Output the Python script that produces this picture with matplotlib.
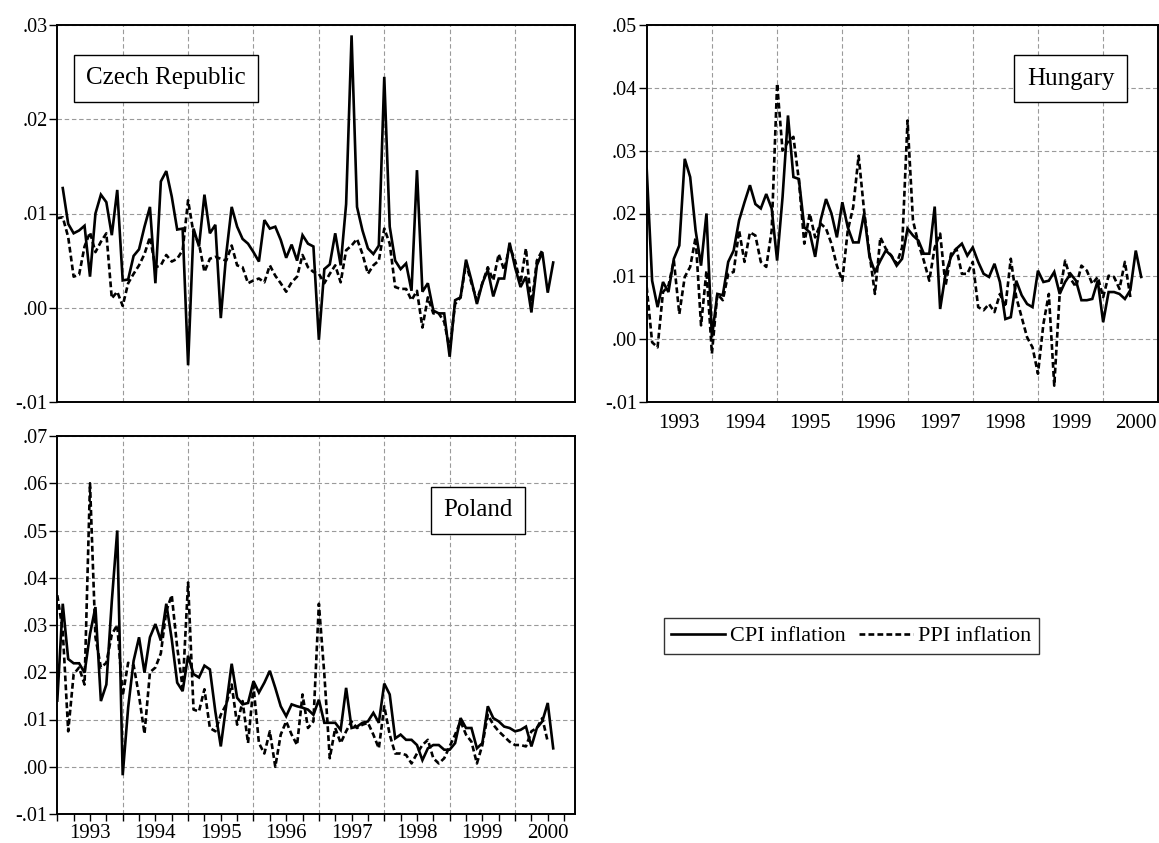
import numpy as np
import matplotlib
matplotlib.use("Agg")
import matplotlib.pyplot as plt
from matplotlib.ticker import FuncFormatter, MultipleLocator

plt.rcParams['font.family'] = ['Liberation Serif', 'DejaVu Serif']

nan = np.nan
years = ['1993', '1994', '1995', '1996', '1997', '1998', '1999', '2000']

# monthly inflation, first value = 1993:01
cz_cpi = [nan, .0127, .0089, .0079, .0082, .0087, .0033, .0100, .0120, .0112, .0077, .0125,
          .0029, .0030, .0055, .0062, .0086, .0107, .0026, .0134, .0145, .0118, .0083, .0084,
          -.0061, .0084, .0065, .0120, .0079, .0088, -.0011, .0057, .0107, .0086, .0073, .0068,
          .0059, .0049, .0093, .0084, .0086, .0072, .0053, .0067, .0050, .0077, .0068, .0065,
          -.0034, .0041, .0046, .0079, .0045, .0110, .0289, .0107, .0082, .0063, .0057, .0066,
          .0245, .0086, .0050, .0041, .0047, .0018, .0146, .0017, .0026, -.0003, -.0006, -.0006,
          -.0052, .0008, .0011, .0051, .0029, .0004, .0026, .0040, .0012, .0031, .0031, .0069,
          .0043, .0022, .0033, -.0005, .0045, .0059, .0016, .0048]
cz_ppi = [.0095, .0096, .0075, .0033, .0035, .0065, .0080, .0059, .0070, .0079, .0010, .0017,
          .0002, .0026, .0036, .0045, .0057, .0075, .0043, .0045, .0056, .0049, .0052, .0061,
          .0114, .0079, .0068, .0038, .0052, .0054, .0052, .0050, .0066, .0045, .0043, .0026,
          .0029, .0031, .0027, .0045, .0034, .0026, .0017, .0027, .0033, .0056, .0043, .0038,
          .0036, .0026, .0036, .0045, .0027, .0061, .0066, .0073, .0057, .0036, .0045, .0050,
          .0084, .0068, .0022, .0020, .0020, .0008, .0018, -.0021, .0011, -.0006, -.0006, -.0015,
          -.0044, .0004, .0011, .0047, .0026, .0008, .0026, .0043, .0029, .0057, .0040, .0065,
          .0050, .0026, .0063, .0001, .0050, .0061]

hu_cpi = [.0271, .0093, .0051, .0091, .0075, .0128, .0149, .0287, .0258, .0173, .0117, .0200,
          .0003, .0072, .0070, .0123, .0141, .0189, .0218, .0245, .0215, .0208, .0231, .0208,
          .0125, .0226, .0356, .0258, .0255, .0178, .0170, .0131, .0189, .0223, .0200, .0162,
          .0218, .0178, .0154, .0154, .0200, .0131, .0107, .0125, .0141, .0133, .0117, .0128,
          .0176, .0165, .0157, .0136, .0136, .0211, .0048, .0104, .0131, .0144, .0152, .0133,
          .0146, .0123, .0104, .0099, .0120, .0091, .0032, .0035, .0093, .0070, .0056, .0051,
          .0109, .0091, .0093, .0107, .0072, .0091, .0104, .0093, .0062, .0062, .0064, .0093,
          .0027, .0075, .0075, .0072, .0064, .0078, .0141, .0099]
hu_ppi = [.0083, -.0005, -.0013, .0075, .0085, .0125, .0040, .0099, .0115, .0162, .0022, .0109,
          -.0023, .0072, .0062, .0104, .0107, .0173, .0123, .0170, .0165, .0123, .0115, .0173,
          .0407, .0300, .0314, .0322, .0253, .0152, .0200, .0162, .0184, .0176, .0152, .0117,
          .0093, .0173, .0210, .0292, .0205, .0136, .0072, .0162, .0144, .0133, .0120, .0146,
          .0348, .0189, .0152, .0125, .0093, .0146, .0168, .0085, .0136, .0144, .0104, .0104,
          .0123, .0051, .0046, .0056, .0043, .0072, .0051, .0128, .0067, .0035, .0003, -.0013,
          -.0055, .0024, .0072, -.0074, .0072, .0125, .0096, .0083, .0117, .0109, .0088, .0099,
          .0067, .0101, .0099, .0080, .0123, .0067]

pl_cpi = [.0140, .0345, .0228, .0219, .0219, .0199, .0281, .0338, .0139, .0174, .0350, .0500,
          -.0018, .0125, .0224, .0274, .0199, .0274, .0302, .0267, .0345, .0270, .0178, .0160,
          .0235, .0196, .0189, .0214, .0206, .0117, .0043, .0130, .0218, .0146, .0132, .0135,
          .0181, .0157, .0178, .0203, .0167, .0128, .0107, .0132, .0128, .0125, .0121, .0110,
          .0142, .0093, .0093, .0093, .0078, .0167, .0082, .0085, .0093, .0096, .0114, .0093,
          .0176, .0153, .0060, .0068, .0057, .0057, .0046, .0014, .0039, .0046, .0046, .0036,
          .0036, .0050, .0103, .0082, .0082, .0039, .0050, .0128, .0103, .0096, .0085, .0082,
          .0075, .0078, .0085, .0043, .0082, .0096, .0135, .0039]
pl_ppi = [.0363, .0288, .0075, .0196, .0210, .0174, .0600, .0274, .0210, .0220, .0280, .0300,
          .0150, .0220, .0215, .0150, .0070, .0200, .0210, .0240, .0330, .0363, .0253, .0167,
          .0390, .0121, .0117, .0164, .0082, .0075, .0110, .0132, .0174, .0089, .0139, .0050,
          .0171, .0050, .0028, .0075, .0000, .0068, .0096, .0068, .0046, .0153, .0082, .0096,
          .0345, .0196, .0018, .0082, .0050, .0075, .0096, .0082, .0089, .0093, .0068, .0039,
          .0128, .0068, .0028, .0028, .0025, .0007, .0028, .0046, .0057, .0018, .0007, .0018,
          .0043, .0068, .0096, .0068, .0053, .0007, .0046, .0110, .0089, .0075, .0064, .0053,
          .0046, .0046, .0043, .0075, .0082, .0103, .0053]

W, H = 1159, 843
fig = plt.figure(figsize=(W / 100, H / 100), dpi=100)


def px_axes(l, r, t, b):
    return fig.add_axes([l / W, 1 - b / H, (r - l) / W, (b - t) / H])


def yfmt(v, pos):
    s = '%.2f' % v
    return s.replace('0.', '.', 1)


def panel(ax, cpi, ppi, name, ylim, xmax, boxpos, labels, qticks):
    ax.plot(np.arange(len(cpi)), cpi, color='black', lw=1.9, solid_joinstyle='miter')
    ax.plot(np.arange(len(ppi)), ppi, color='black', lw=1.9, linestyle=(0, (2.2, 1.2)))
    ax.set_xlim(0, xmax)
    ax.set_ylim(*ylim)
    ax.yaxis.set_major_locator(MultipleLocator(0.01))
    ax.yaxis.set_major_formatter(FuncFormatter(yfmt))
    ax.set_xticks(np.arange(12, 96, 12))
    ax.grid(True, color='#9a9a9a', lw=0.8, linestyle=(0, (4, 2.5)))
    ax.set_axisbelow(True)
    for s in ax.spines.values():
        s.set_linewidth(1.4)
    ax.tick_params(axis='y', direction='out', length=6, width=1, labelsize=14.5, pad=1)
    ax.tick_params(axis='x', labelbottom=False, length=0)
    if qticks:
        ax.xaxis.set_minor_locator(MultipleLocator(3))
        ax.tick_params(axis='x', which='both', direction='out', length=5, width=1)
    if labels:
        sec = ax.secondary_xaxis('bottom')
        sec.set_xticks(np.arange(6, 96, 12), years)
        sec.tick_params(length=0, labelsize=15, pad=labels)
        sec.spines['bottom'].set_visible(False)
    ax.text(boxpos[0], boxpos[1], name, transform=ax.transAxes, ha='center', va='center',
            fontsize=18, bbox=dict(boxstyle='square,pad=0.5', fc='white', ec='black', lw=1))


ax1 = px_axes(57.3, 575, 25, 402)
panel(ax1, cz_cpi, cz_ppi, 'Czech Republic', (-0.01, 0.03), 95, (0.21, 0.859), 0, False)

ax2 = px_axes(646.7, 1157.5, 25, 402)
panel(ax2, hu_cpi, hu_ppi, 'Hungary', (-0.01, 0.05), 94, (0.83, 0.857), 9, False)

ax3 = px_axes(57.3, 575, 436, 814)
panel(ax3, pl_cpi, pl_ppi, 'Poland', (-0.01, 0.07), 95, (0.813, 0.804), 7, True)

h = ax3.get_lines()[0:2]
leg = fig.legend(h, ['CPI inflation', 'PPI inflation'], loc='center',
                 bbox_to_anchor=(851.5 / W, 1 - 636 / H), ncol=2, fontsize=16,
                 frameon=True, fancybox=False, edgecolor='black', handlelength=2.4,
                 handletextpad=0.25, columnspacing=0.6, borderpad=0.35)
leg.get_frame().set_linewidth(1)

fig.savefig('out.png', dpi=100)
